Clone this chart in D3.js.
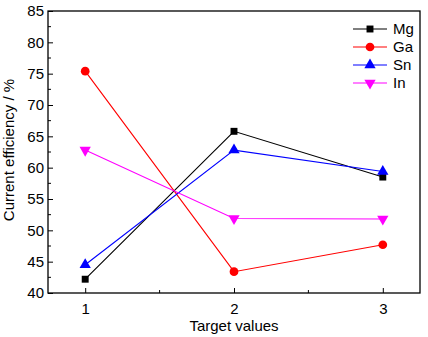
<!DOCTYPE html>
<html>
<head>
<meta charset="utf-8">
<script src="https://cdn.jsdelivr.net/npm/d3@7"></script>
<style>
  html, body { margin: 0; padding: 0; background: #fff; }
  svg { display: block; font-family: "Liberation Sans", Arial, sans-serif; }
</style>
</head>
<body>
<svg id="chart" width="428" height="337"></svg>
<script>
// Target values on the x axis
const targets = [1, 2, 3];
// Current efficiency (%) per dopant
const mg = [42.2, 65.8, 58.5];
const ga = [75.4, 43.4, 47.7];
const sn = [44.5, 62.8, 59.4];
const inn = [62.8, 51.9, 51.8];
const seriesNames = ["Mg", "Ga", "Sn", "In"];
const yTicks = [40, 45, 50, 55, 60, 65, 70, 75, 80, 85];

const series = [
  { name: seriesNames[0], values: mg, color: "#000000", symbol: d3.symbolSquare, size: 48, rot: 0 },
  { name: seriesNames[1], values: ga, color: "#ff0000", symbol: d3.symbolCircle, size: 60, rot: 0 },
  { name: seriesNames[2], values: sn, color: "#0000ff", symbol: d3.symbolTriangle, size: 55, rot: 0 },
  { name: seriesNames[3], values: inn, color: "#ff00ff", symbol: d3.symbolTriangle, size: 55, rot: 180 }
];

const svg = d3.select("#chart");
const plotL = 48, plotR = 420, plotT = 11, plotB = 293;
const fs = 15;

const x = d3.scaleLinear().domain([0.75, 3.25]).range([plotL, plotR]);
const y = d3.scaleLinear().domain([40, 85]).range([plotB, plotT]);

// Frame
svg.append("rect")
  .attr("x", plotL).attr("y", plotT)
  .attr("width", plotR - plotL).attr("height", plotB - plotT)
  .attr("fill", "none").attr("stroke", "#000").attr("stroke-width", 1.3);

// Y axis: major ticks every 5, minor halfway, pointing inward
const yAxis = d3.axisLeft(y).tickValues(yTicks).tickSizeInner(-5).tickSizeOuter(0).tickPadding(4);
const gy = svg.append("g").attr("transform", `translate(${plotL},0)`).call(yAxis);
gy.select(".domain").remove();
gy.selectAll("text").attr("font-size", fs).attr("fill", "#000")
  .attr("font-family", "Liberation Sans, Arial, sans-serif");
const yMinor = d3.range(42.5, 85, 5);
svg.append("g").selectAll("line").data(yMinor).join("line")
  .attr("x1", plotL).attr("x2", plotL + 3)
  .attr("y1", d => y(d)).attr("y2", d => y(d))
  .attr("stroke", "#000");

// X axis
const xAxis = d3.axisBottom(x).tickValues(targets).tickSizeInner(-5).tickSizeOuter(0).tickPadding(10)
  .tickFormat(d3.format("d"));
const gx = svg.append("g").attr("transform", `translate(0,${plotB})`).call(xAxis);
gx.select(".domain").remove();
gx.selectAll("text").attr("font-size", fs).attr("fill", "#000")
  .attr("font-family", "Liberation Sans, Arial, sans-serif");
svg.append("g").selectAll("line").data([1.5, 2.5]).join("line")
  .attr("x1", d => x(d)).attr("x2", d => x(d))
  .attr("y1", plotB).attr("y2", plotB - 3)
  .attr("stroke", "#000");

// Axis titles
svg.append("text")
  .attr("x", (plotL + plotR) / 2).attr("y", 331)
  .attr("text-anchor", "middle").attr("font-size", fs)
  .text("Target values");
svg.append("text")
  .attr("transform", `translate(14,${(plotT + plotB) / 2 - 2}) rotate(-90)`)
  .attr("text-anchor", "middle").attr("font-size", fs)
  .text("Current efficiency / %");

// Lines and markers
const line = d3.line().x((d, i) => x(targets[i])).y(d => y(d));
series.forEach(s => {
  svg.append("path").datum(s.values)
    .attr("d", line).attr("fill", "none")
    .attr("stroke", s.color).attr("stroke-width", 1.1);
  svg.append("g").selectAll("path").data(s.values).join("path")
    .attr("d", d3.symbol().type(s.symbol).size(s.size))
    .attr("transform", (d, i) => `translate(${x(targets[i])},${y(d)}) rotate(${s.rot})`)
    .attr("fill", s.color);
});

// Legend
const lg = svg.append("g");
series.forEach((s, i) => {
  const ly = 29 + i * 18;
  lg.append("line").attr("x1", 353).attr("x2", 387).attr("y1", ly).attr("y2", ly)
    .attr("stroke", s.color).attr("stroke-width", 1.1);
  lg.append("path").attr("d", d3.symbol().type(s.symbol).size(s.size))
    .attr("transform", `translate(370,${ly}) rotate(${s.rot})`).attr("fill", s.color);
  lg.append("text").attr("x", 393).attr("y", ly + 5).attr("font-size", fs).text(s.name);
});
</script>
</body>
</html>
